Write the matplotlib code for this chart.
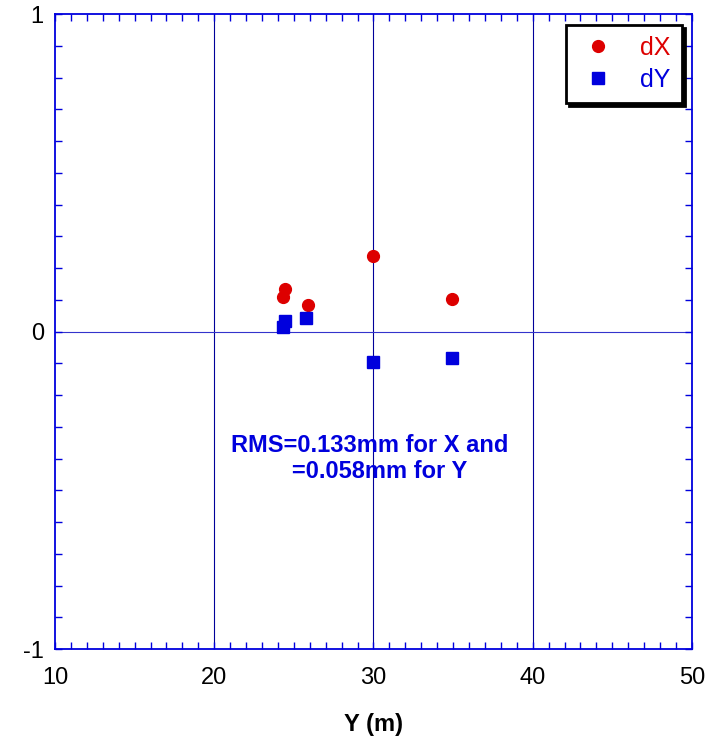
import matplotlib
matplotlib.use('Agg')
import matplotlib.pyplot as plt
from matplotlib.ticker import MultipleLocator

plt.rcParams['font.family'] = ['Liberation Sans', 'DejaVu Sans']
plt.rcParams['axes.unicode_minus'] = False

# positions along Y (m) and the residuals
y_pos_dx = [24.3, 24.45, 25.9, 29.95, 34.95]
dx_vals = [0.110, 0.133, 0.083, 0.239, 0.102]
y_pos_dy = [24.3, 24.45, 25.75, 29.95, 34.95]
dy_vals = [0.013, 0.033, 0.042, -0.095, -0.084]

rms_text = 'RMS=0.133mm for X and\n   =0.058mm for Y'

fig = plt.figure(figsize=(7.28, 7.42), dpi=100)
ax = fig.add_axes([0.0755, 0.1253, 0.875, 0.8558])

blue = '#0000dd'
for s in ax.spines.values():
    s.set_color(blue)
    s.set_linewidth(1.3)

# grid lines through the plot
for gx in [20, 30, 40]:
    ax.axvline(gx, color='#000099', lw=0.8, zorder=1)
ax.axhline(0, color='#3333cc', lw=0.8, zorder=1)

ax.plot(y_pos_dx, dx_vals, 'o', color='#dd0000', markersize=8.5, label='dX', zorder=3)
ax.plot(y_pos_dy, dy_vals, 's', color='#0000dd', markersize=8, label='dY', zorder=3)

ax.set_xlim(10, 50)
ax.set_ylim(-1, 1)
ax.xaxis.set_major_locator(MultipleLocator(10))
ax.xaxis.set_minor_locator(MultipleLocator(1))
ax.yaxis.set_major_locator(MultipleLocator(1))
ax.yaxis.set_minor_locator(MultipleLocator(0.1))
ax.tick_params(which='both', direction='in', top=True, right=True,
               length=5, width=1, color=blue, labelsize=17, pad=8)
ax.tick_params(axis='x', pad=13)

ax.set_xlabel('Y (m)', fontsize=17, fontweight='bold', labelpad=17)

ax.text(29.75, -0.40, rms_text, color=blue, fontsize=17, fontweight='bold',
        ha='center', va='center', linespacing=1.15)

leg = ax.legend(loc='upper right', bbox_to_anchor=(0.984, 0.983), fontsize=18,
                frameon=True, fancybox=False, shadow={'color': 'black', 'alpha': 1},
                handletextpad=0.9, borderpad=0.45, labelspacing=0.3, markerfirst=True,
                borderaxespad=0, labelcolor='markerfacecolor', handlelength=1.6)
leg.get_frame().set_edgecolor('black')
leg.get_frame().set_linewidth(2)
leg.get_frame().set_alpha(1)

fig.savefig('out.png', dpi=100)
